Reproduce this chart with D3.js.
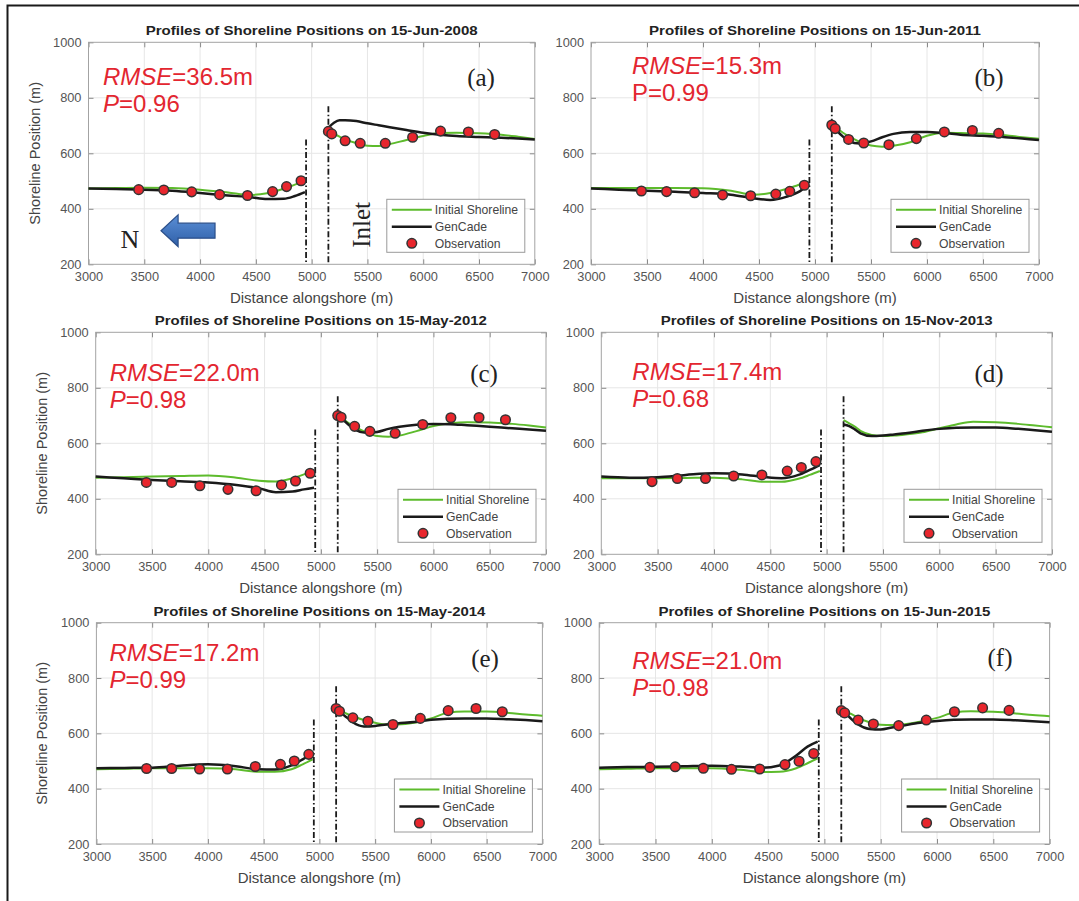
<!DOCTYPE html>
<html>
<head>
<meta charset="utf-8">
<title>Profiles of Shoreline Positions</title>
<script src="https://d3js.org/d3.v7.min.js"></script>
<style>
  body { margin: 0; background: #fff; }
  svg { display: block; font-family: "Liberation Sans", Arial, sans-serif; }
</style>
</head>
<body>
<svg width="1079" height="901" id="mainsvg"></svg>
<script>
// ---------- data ----------
const dates = ['15-Jun-2008', '15-Jun-2011', '15-May-2012', '15-Nov-2013', '15-May-2014', '15-Jun-2015'];
const rmse = ['36.5', '15.3', '22.0', '17.4', '17.2', '21.0'];
const pValues = ['0.96', '0.99', '0.98', '0.68', '0.99', '0.98'];
const pItalic = [true, false, true, true, true, true];
const panelTags = ['(a)', '(b)', '(c)', '(d)', '(e)', '(f)'];

const xTicks = [3000, 3500, 4000, 4500, 5000, 5500, 6000, 6500, 7000];
const yTicks = [200, 400, 600, 800, 1000];

// jetties either side of the inlet: x position and top of the dash-dot line
const jettyX = [4950, 5150];
const jettyTop = [650, 770];

// sample positions of the two shoreline curves (left of inlet, then right of inlet)
const lineX = [3000, 3250, 3500, 3750, 4000, 4250, 4450, 4600, 4750, 4850, 4940,
               5150, 5200, 5250, 5300, 5400, 5500, 5600, 5700, 5850, 6000, 6150, 6300, 6500, 6700, 6850, 7000];

const initialA = [473, 475, 476, 475, 469, 459, 450, 456, 472, 487, 500,
                  680, 670, 660, 650, 637, 627, 626, 633, 648, 662, 673, 674, 672, 667, 660, 652];
const gencadeA = [473, 471, 469, 465, 457, 448, 442, 435, 436, 446, 460,
                  692, 710, 719, 719, 716, 708, 701, 694, 684, 674, 667, 662, 659, 656, 653, 650];

const initialB = [475, 475, 475, 475, 474, 465, 451, 457, 472, 486, 498,
                  708, 689, 674, 662, 641, 628, 624, 627, 640, 663, 674, 673, 671, 665, 658, 652];
const gencadeB = [473, 469, 465, 461, 457, 451, 438, 432, 444, 460, 487,
                  708, 680, 660, 644, 635, 643, 658, 670, 677, 677, 673, 667, 663, 658, 653, 648];

const initialC = [476, 478, 480, 482, 484, 476, 465, 462, 474, 488, 499,
                  708, 688, 672, 660, 640, 626, 624, 628, 644, 662, 672, 676, 675, 670, 664, 657];
const gencadeC = [480, 474, 468, 463, 459, 450, 438, 424, 426, 434, 440,
                  708, 684, 666, 650, 638, 641, 652, 660, 667, 670, 669, 665, 660, 654, 650, 645];

const initialD = [474, 474, 474, 475, 476, 470, 461, 461, 472, 486, 500,
                  684, 672, 660, 645, 630, 626, 628, 632, 640, 654, 668, 678, 676, 670, 664, 658];
const gencadeD = [480, 476, 478, 486, 492, 488, 478, 474, 486, 504, 522,
                  668, 662, 650, 636, 626, 628, 632, 636, 645, 652, 656, 657, 657, 652, 647, 642];

const initialE = [470, 472, 474, 474, 474, 470, 461, 461, 470, 488, 506,
                  692, 680, 670, 662, 648, 638, 632, 632, 638, 654, 674, 679, 679, 674, 668, 664];
const gencadeE = [474, 475, 476, 483, 488, 481, 470, 469, 484, 506, 528,
                  692, 672, 656, 640, 625, 627, 632, 636, 641, 649, 653, 654, 654, 651, 648, 644];

const initialF = [470, 472, 474, 474, 474, 468, 460, 461, 474, 492, 510,
                  688, 676, 668, 656, 640, 631, 630, 632, 642, 656, 675, 680, 678, 672, 666, 662];
const gencadeF = [476, 478, 479, 481, 483, 480, 476, 484, 520, 552, 570,
                  690, 668, 648, 632, 616, 614, 621, 628, 638, 645, 649, 650, 650, 647, 644, 640];

// observed shoreline positions
const obsX = [3450, 3675, 3925, 4175, 4425, 4650, 4775, 4905,
              5150, 5180, 5300, 5435, 5660, 5905, 6155, 6405, 6640];
const obsA = [469, 468, 461, 451, 448, 462, 480, 501, 679, 670, 645, 636, 636, 658, 680, 677, 668];
const obsB = [464, 462, 458, 450, 447, 453, 463, 485, 702, 689, 650, 637, 631, 653, 677, 682, 672];
const obsC = [459, 459, 447, 434, 429, 450, 464, 492, 700, 694, 661, 643, 636, 668, 692, 693, 685];
const obsD = [462, 473, 473, 482, 486, 500, 513, 534, null, null, null, null, null, null, null, null, null];
const obsE = [473, 473, 471, 471, 480, 488, 500, 524, 690, 680, 656, 644, 632, 654, 682, 690, 678];
const obsF = [477, 479, 474, 470, 471, 487, 499, 527, 682, 674, 648, 634, 628, 648, 678, 692, 683];

const legendLabels = ['Initial Shoreline', 'GenCade', 'Observation'];

// ---------- layout ----------
const GREEN = '#5dbb2c';
const RED = '#e8262d';
const TXT = '#e32630';

const panels = [
  {x0: 88.5, x1: 534.8, y0: 42.3, y1: 264.3, ylabel: true, init: initialA, gen: gencadeA, obs: obsA, rx: 14.5, ry: 43, tagx: 481, tagy: 77},
  {x0: 591, x1: 1039, y0: 42.3, y1: 264.3, ylabel: false, init: initialB, gen: gencadeB, obs: obsB, rx: 41, ry: 32, tagx: 989, tagy: 77},
  {x0: 95.7, x1: 546, y0: 332.3, y1: 554.3, ylabel: true, init: initialC, gen: gencadeC, obs: obsC, rx: 14, ry: 49, tagx: 484, tagy: 373},
  {x0: 601.3, x1: 1052, y0: 332.3, y1: 554.3, ylabel: false, init: initialD, gen: gencadeD, obs: obsD, rx: 31, ry: 48, tagx: 989, tagy: 373},
  {x0: 96.4, x1: 542.4, y0: 622.7, y1: 844, ylabel: true, init: initialE, gen: gencadeE, obs: obsE, rx: 13, ry: 38, tagx: 485, tagy: 658},
  {x0: 599.2, x1: 1049.6, y0: 622.7, y1: 844, ylabel: false, init: initialF, gen: gencadeF, obs: obsF, rx: 33, ry: 46, tagx: 1000, tagy: 657}
];

const svg = d3.select('#mainsvg');

// outer frame of the figure (only left and top survive the crop)
svg.append('path')
  .attr('d', 'M7.5,901 L7.5,5.5 L1079,5.5')
  .attr('fill', 'none').attr('stroke', '#1a1a1a').attr('stroke-width', 2);

panels.forEach((p, i) => {
  const x = d3.scaleLinear().domain([3000, 7000]).range([p.x0, p.x1]);
  const y = d3.scaleLinear().domain([200, 1000]).range([p.y1, p.y0]);
  const g = svg.append('g');

  // grid
  g.append('g').selectAll('line').data(xTicks.slice(1, -1)).join('line')
    .attr('x1', d => x(d)).attr('x2', d => x(d))
    .attr('y1', p.y0).attr('y2', p.y1)
    .attr('stroke', '#e6e6e6').attr('stroke-width', 1);
  g.append('g').selectAll('line').data(yTicks.slice(1, -1)).join('line')
    .attr('y1', d => y(d)).attr('y2', d => y(d))
    .attr('x1', p.x0).attr('x2', p.x1)
    .attr('stroke', '#e6e6e6').attr('stroke-width', 1);

  // axes (MATLAB style: inward ticks on all four sides)
  const bottom = g.append('g').attr('transform', `translate(0,${p.y1})`)
    .call(d3.axisBottom(x).tickValues(xTicks).tickSizeInner(-5).tickSizeOuter(0).tickPadding(8).tickFormat(d3.format('d')));
  const left = g.append('g').attr('transform', `translate(${p.x0},0)`)
    .call(d3.axisLeft(y).tickValues(yTicks).tickSizeInner(-5).tickSizeOuter(0).tickPadding(7).tickFormat(d3.format('d')));
  const top = g.append('g').attr('transform', `translate(0,${p.y0})`)
    .call(d3.axisTop(x).tickValues(xTicks).tickSizeInner(-5).tickSizeOuter(0).tickFormat(''));
  const right = g.append('g').attr('transform', `translate(${p.x1},0)`)
    .call(d3.axisRight(y).tickValues(yTicks).tickSizeInner(-5).tickSizeOuter(0).tickFormat(''));
  [bottom, left, top, right].forEach(a => {
    a.select('.domain').remove();
    a.selectAll('.tick line').attr('stroke', '#8a8a8a');
    a.selectAll('.tick text')
      .attr('font-family', '"Liberation Sans", Arial, sans-serif')
      .attr('font-size', 12.8).attr('fill', '#555');
  });

  g.append('rect')
    .attr('x', p.x0).attr('y', p.y0)
    .attr('width', p.x1 - p.x0).attr('height', p.y1 - p.y0)
    .attr('fill', 'none').attr('stroke', '#a3a3a3').attr('stroke-width', 1);

  // title and axis labels
  g.append('text')
    .attr('x', (p.x0 + p.x1) / 2).attr('y', p.y0 - 7)
    .attr('text-anchor', 'middle')
    .attr('font-weight', 'bold').attr('font-size', 13.5).attr('fill', '#222')
    .attr('textLength', 332).attr('lengthAdjust', 'spacingAndGlyphs')
    .text(`Profiles of Shoreline Positions on ${dates[i]}`);
  g.append('text')
    .attr('x', (p.x0 + p.x1) / 2).attr('y', p.y1 + 39)
    .attr('text-anchor', 'middle')
    .attr('font-size', 15).attr('fill', '#444')
    .text('Distance alongshore (m)');
  if (p.ylabel) {
    g.append('text')
      .attr('transform', `translate(${p.x0 - 49},${(p.y0 + p.y1) / 2}) rotate(-90)`)
      .attr('text-anchor', 'middle')
      .attr('font-size', 14.5).attr('fill', '#444')
      .text('Shoreline Position (m)');
  }

  // curves
  const pts = arr => lineX.map((d, k) => [d, arr[k]]);
  const line = d3.line().x(d => x(d[0])).y(d => y(d[1])).curve(d3.curveMonotoneX);
  const split = arr => [pts(arr).filter(d => d[0] < 5000), pts(arr).filter(d => d[0] > 5000)];

  split(p.init).forEach(seg => {
    g.append('path').attr('d', line(seg))
      .attr('fill', 'none').attr('stroke', GREEN).attr('stroke-width', 2);
  });
  split(p.gen).forEach(seg => {
    g.append('path').attr('d', line(seg))
      .attr('fill', 'none').attr('stroke', '#1a1a1a').attr('stroke-width', 2.5);
  });

  // jetties (dash-dot)
  g.append('g').selectAll('line').data(jettyX).join('line')
    .attr('x1', d => x(d)).attr('x2', d => x(d))
    .attr('y1', (d, k) => y(jettyTop[k])).attr('y2', y(200))
    .attr('stroke', '#1a1a1a').attr('stroke-width', 1.8)
    .attr('stroke-dasharray', '6,2.5,1.5,2.5');

  // observations
  const obs = obsX.map((d, k) => [d, p.obs[k]]).filter(d => d[1] != null);
  g.append('g').selectAll('circle').data(obs).join('circle')
    .attr('cx', d => x(d[0])).attr('cy', d => y(d[1])).attr('r', 4.8)
    .attr('fill', RED).attr('stroke', '#333').attr('stroke-width', 1.5);

  // RMSE / P annotation
  const t1 = g.append('text').attr('x', p.x0 + p.rx).attr('y', p.y0 + p.ry)
    .attr('font-size', 24).attr('fill', TXT);
  t1.append('tspan').attr('font-style', 'italic').text('RMSE');
  t1.append('tspan').text(`=${rmse[i]}m`);
  const t2 = g.append('text').attr('x', p.x0 + p.rx).attr('y', p.y0 + p.ry + 27)
    .attr('font-size', 24).attr('fill', TXT);
  t2.append('tspan').attr('font-style', pItalic[i] ? 'italic' : 'normal').text('P');
  t2.append('tspan').text(`=${pValues[i]}`);

  // panel tag
  g.append('text').attr('x', p.tagx).attr('y', p.tagy)
    .attr('text-anchor', 'middle').attr('dominant-baseline', 'central')
    .attr('font-family', '"Liberation Serif", "DejaVu Serif", serif')
    .attr('font-size', 25).attr('fill', '#222')
    .text(panelTags[i]);

  // legend
  const lw = 138, lh = 53;
  const lx = p.x1 - 10 - lw, ly = p.y1 - 12 - lh;
  const lg = g.append('g').attr('transform', `translate(${lx},${ly})`);
  lg.append('rect').attr('width', lw).attr('height', lh)
    .attr('fill', '#fff').attr('stroke', '#9a9a9a').attr('stroke-width', 1);
  const rows = [10.5, 27.5, 44];
  lg.append('line').attr('x1', 5).attr('x2', 45).attr('y1', rows[0]).attr('y2', rows[0])
    .attr('stroke', GREEN).attr('stroke-width', 2);
  lg.append('line').attr('x1', 5).attr('x2', 45).attr('y1', rows[1]).attr('y2', rows[1])
    .attr('stroke', '#1a1a1a').attr('stroke-width', 2.5);
  lg.append('circle').attr('cx', 25).attr('cy', rows[2]).attr('r', 4.8)
    .attr('fill', RED).attr('stroke', '#333').attr('stroke-width', 1.5);
  lg.selectAll('text.lab').data(legendLabels).join('text').attr('class', 'lab')
    .attr('x', 48).attr('y', (d, k) => rows[k]).attr('dy', '0.35em')
    .attr('font-size', 12.2).attr('fill', '#444')
    .text(d => d);

  // annotations in the first panel only
  if (i === 0) {
    const serif = '"Liberation Serif", "DejaVu Serif", serif';
    g.append('text')
      .attr('transform', `translate(${x(5448)},${y(342)}) rotate(-90)`)
      .attr('text-anchor', 'middle').attr('dominant-baseline', 'central')
      .attr('font-family', serif).attr('font-size', 25).attr('fill', '#222')
      .text('Inlet');
    g.append('text')
      .attr('x', x(3372)).attr('y', y(259))
      .attr('text-anchor', 'middle')
      .attr('font-family', serif).attr('font-size', 26).attr('fill', '#222')
      .text('N');
    // arrow pointing north (to the left)
    const tip = x(3650), neck = x(3803), tail = x(4134), cy = y(321);
    const head = 15.8, shaft = 7.5;
    const grad = svg.append('defs').append('linearGradient').attr('id', 'arrowFill')
      .attr('x1', 0).attr('y1', 0).attr('x2', 0).attr('y2', 1);
    grad.append('stop').attr('offset', '0%').attr('stop-color', '#5b8fd6');
    grad.append('stop').attr('offset', '100%').attr('stop-color', '#2f5fa8');
    g.append('path')
      .attr('d', `M${tip},${cy} L${neck},${cy - head} L${neck},${cy - shaft} L${tail},${cy - shaft}
                  L${tail},${cy + shaft} L${neck},${cy + shaft} L${neck},${cy + head} Z`)
      .attr('fill', 'url(#arrowFill)').attr('stroke', '#2b4f8a').attr('stroke-width', 1.2);
  }
});
</script>
</body>
</html>
